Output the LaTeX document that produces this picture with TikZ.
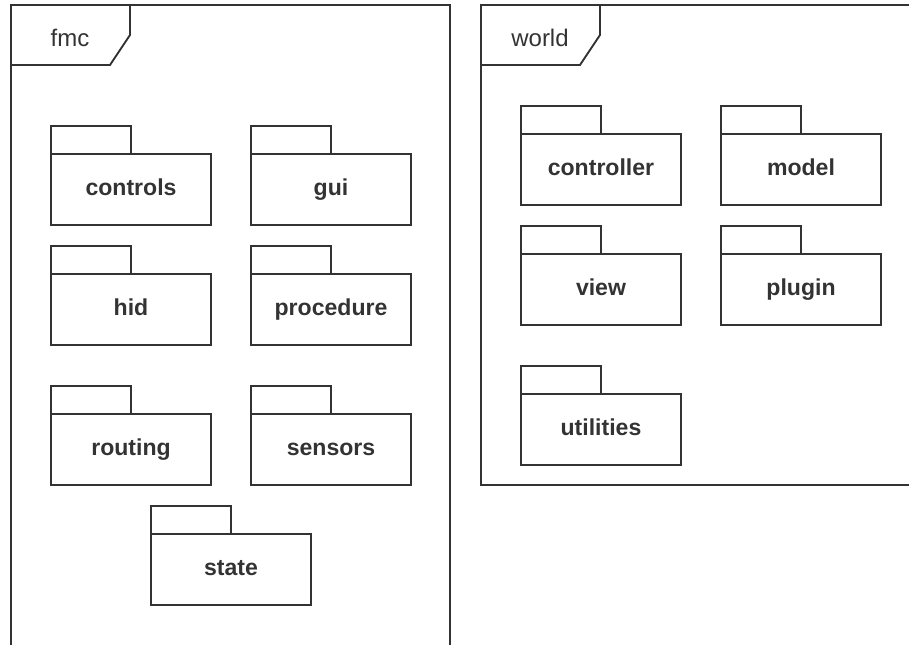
\documentclass[tikz,border=0pt]{standalone}
\usepackage{fontspec}
\setmainfont{Liberation Sans}
\definecolor{ln}{HTML}{333333}
\definecolor{tx}{HTML}{333333}
\tikzset{
  px/.style={x=0.75pt,y=-0.75pt},
  frameline/.style={draw=ln,line width=1.4pt,line join=miter},
  pkgbody/.style={draw=ln,line width=1.4pt,rectangle,minimum width=120pt,minimum height=53.25pt,inner sep=0pt,outer sep=0pt,anchor=north west,text=tx,text height=12.5pt,text depth=3.6pt,font=\fontsize{17.3}{20}\selectfont\bfseries},
  pkgtab/.style={draw=ln,line width=1.4pt},
  framelabel/.style={text=tx,font=\fontsize{18}{21}\selectfont,inner sep=0pt,text height=13pt,text depth=3.8pt}
}
\newcommand{\pkgbox}[4]{%
  \node[pkgbody] (#1) at (#2,#3) {#4};
  \draw[pkgtab] (#1.north west) rectangle ++(80,-28);
}
\begin{document}
\begin{tikzpicture}[px]
\useasboundingbox (0,0) rectangle (909,645);
% fmc frame
\draw[frameline] (11,645.6) -- (11,5) -- (450,5) -- (450,645.6) -- cycle;
\draw[frameline] (11,65) -- (110,65) -- (130,35) -- (130,5);
\node[framelabel] (fmclabel) at (70,40) {fmc};
% world frame
\draw[frameline] (915,485) -- (481,485) -- (481,5) -- (915,5);
\draw[frameline] (481,65) -- (580,65) -- (600,35) -- (600,5);
\node[framelabel] (worldlabel) at (540,40) {world};
% fmc packages
\pkgbox{controls}{51}{154}{controls}
\pkgbox{gui}{251}{154}{gui}
\pkgbox{hid}{51}{274}{hid}
\pkgbox{procedure}{251}{274}{procedure}
\pkgbox{routing}{51}{414}{routing}
\pkgbox{sensors}{251}{414}{sensors}
\pkgbox{state}{151}{534}{state}
% world packages
\pkgbox{controller}{521}{134}{controller}
\pkgbox{model}{721}{134}{model}
\pkgbox{view}{521}{254}{view}
\pkgbox{plugin}{721}{254}{plugin}
\pkgbox{utilities}{521}{394}{utilities}
\end{tikzpicture}
\end{document}
